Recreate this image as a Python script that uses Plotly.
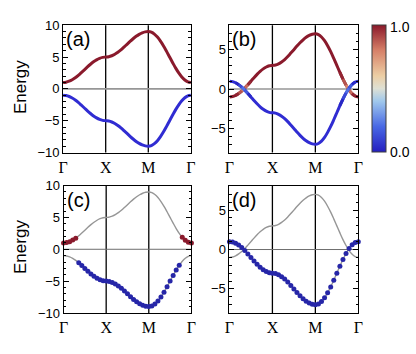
import plotly.graph_objects as go

# ---------------- data ----------------
k_labels = ["Γ", "X", "M", "Γ"]
k_ticks = [0, 14, 28, 42]
k_index = list(range(43))

band_a_upper = [1.00, 1.05, 1.20, 1.44, 1.75, 2.13, 2.56, 3.00, 3.45, 3.87, 4.25, 4.56, 4.80, 4.95,
                5.00, 5.05, 5.20, 5.44, 5.75, 6.13, 6.56, 7.00, 7.45, 7.87, 8.25, 8.56, 8.80, 8.95,
                9.00, 8.90, 8.60, 8.13, 7.49, 6.74, 5.89, 5.00, 4.11, 3.26, 2.51, 1.87, 1.40, 1.10, 1.00]
band_a_lower = [-1.00, -1.05, -1.20, -1.44, -1.75, -2.13, -2.56, -3.00, -3.45, -3.87, -4.25, -4.56, -4.80, -4.95,
                -5.00, -5.05, -5.20, -5.44, -5.75, -6.13, -6.56, -7.00, -7.45, -7.87, -8.25, -8.56, -8.80, -8.95,
                -9.00, -8.90, -8.60, -8.13, -7.49, -6.74, -5.89, -5.00, -4.11, -3.26, -2.51, -1.87, -1.40, -1.10, -1.00]
band_b_red = [-1.00, -0.95, -0.80, -0.56, -0.25, 0.13, 0.56, 1.00, 1.45, 1.87, 2.25, 2.56, 2.80, 2.95,
              3.00, 3.05, 3.20, 3.44, 3.75, 4.13, 4.56, 5.00, 5.45, 5.87, 6.25, 6.56, 6.80, 6.95,
              7.00, 6.90, 6.60, 6.13, 5.49, 4.74, 3.89, 3.00, 2.11, 1.26, 0.51, -0.13, -0.60, -0.90, -1.00]
band_b_blue = [1.00, 0.95, 0.80, 0.56, 0.25, -0.13, -0.56, -1.00, -1.45, -1.87, -2.25, -2.56, -2.80, -2.95,
               -3.00, -3.05, -3.20, -3.44, -3.75, -4.13, -4.56, -5.00, -5.45, -5.87, -6.25, -6.56, -6.80, -6.95,
               -7.00, -6.90, -6.60, -6.13, -5.49, -4.74, -3.89, -3.00, -2.11, -1.26, -0.51, 0.13, 0.60, 0.90, 1.00]
weight_b_red = [1, 1, 1, 0.95, 0.82, 0.75, 0.93, 1, 1, 1, 1, 1, 1, 1,
                1, 1, 1, 1, 1, 1, 1, 1, 1, 1, 1, 1, 1, 1,
                1, 1, 1, 1, 1, 1, 1, 1, 1, 0.95, 0.82, 0.75, 0.93, 1, 1]
weight_b_blue = [0, 0, 0, 0.05, 0.18, 0.25, 0.07, 0, 0, 0, 0, 0, 0, 0,
                 0, 0, 0, 0, 0, 0, 0, 0, 0, 0, 0, 0, 0, 0,
                 0, 0, 0, 0, 0, 0, 0, 0, 0, 0.05, 0.18, 0.25, 0.07, 0, 0]
dots_c_upper_idx = [0, 1, 2, 3, 4, 39, 40, 41, 42]
dots_c_lower_idx = list(range(5, 39))
dots_d_idx = list(range(43))
colorbar_labels = ["0.0", "1.0"]

colorscale = [
    [0.0, "rgb(36,30,192)"],
    [0.2, "rgb(72,104,228)"],
    [0.4, "rgb(160,200,236)"],
    [0.5, "rgb(222,224,212)"],
    [0.6, "rgb(236,206,164)"],
    [0.8, "rgb(214,128,104)"],
    [1.0, "rgb(138,24,42)"],
]
RED = "rgb(138,26,44)"
BLUE = "rgb(48,44,210)"
DOT_BLUE = "rgb(38,38,168)"
GRAY = "rgb(150,150,150)"


def color_at(w):
    for i in range(len(colorscale) - 1):
        a, ca = colorscale[i]
        b, cb = colorscale[i + 1]
        if a <= w <= b:
            f = (w - a) / (b - a) if b > a else 0
            pa = [float(v) for v in ca[4:-1].split(",")]
            pb = [float(v) for v in cb[4:-1].split(",")]
            c = [round(pa[j] + f * (pb[j] - pa[j])) for j in range(3)]
            return "rgb(%d,%d,%d)" % tuple(c)
    return colorscale[-1][1]


fig = go.Figure()

SERIF = "Liberation Serif"
SANS = "Liberation Sans"

# domains in paper fraction (canvas 416x354)
W, H = 416.0, 354.0
panels = {
    1: dict(x=(59.5, 190.5), y=(19, 152), yr=[-10, 10], yt=[-10, -5, 0, 5, 10]),
    2: dict(x=(230, 362), y=(19, 152), yr=[-8.05, 8.1], yt=[-5, 0, 5]),
    3: dict(x=(60, 191), y=(186.5, 319.5), yr=[-10, 10], yt=[-10, -5, 0, 5, 10]),
    4: dict(x=(230, 362), y=(187, 319.5), yr=[-8.05, 8.05], yt=[-5, 0, 5]),
}

layout = dict(
    width=416, height=354,
    margin=dict(l=0, r=0, t=0, b=0),
    paper_bgcolor="white", plot_bgcolor="white",
    showlegend=False,
    font=dict(family=SANS, color="black", size=13),
)
shapes = []
annotations = []
for n, p in panels.items():
    sx = "" if n == 1 else str(n)
    layout["xaxis" + sx] = dict(
        domain=[p["x"][0] / W, p["x"][1] / W], anchor="y" + sx, range=[0, 42],
        tickvals=k_ticks, ticktext=k_labels, ticks="", showline=True, mirror=True,
        linecolor="black", linewidth=1, showgrid=False, zeroline=False,
        tickfont=dict(family=SERIF, size=16, color="black"),
    )
    layout["yaxis" + sx] = dict(
        domain=[1 - p["y"][1] / H, 1 - p["y"][0] / H], anchor="x" + sx, range=p["yr"],
        tickvals=p["yt"], ticks="inside", ticklen=5, tickcolor="black", tickwidth=1,
        minor=dict(ticks="inside", ticklen=2.5, dtick=1, tickcolor="black", tickwidth=0.8),
        showline=True, mirror="ticks", linecolor="black", linewidth=1,
        showgrid=False, zeroline=False, tickfont=dict(family=SANS, size=13, color="black"),
    )
    xr, yr = "x" + sx, "y" + sx
    for xv in (14, 28):
        shapes.append(dict(type="line", xref=xr, yref=yr + " domain", x0=xv, x1=xv, y0=0, y1=1,
                           line=dict(color="black", width=1.3), layer="below"))
    zc, zw = (GRAY, 1.6) if n in (1, 2) else ("rgb(110,110,110)", 1.0)
    shapes.append(dict(type="line", xref=xr + " domain", yref=yr, x0=0, x1=1, y0=0, y1=0,
                       line=dict(color=zc, width=zw), layer="below"))
    annotations.append(dict(text="(" + "abcd"[n - 1] + ")", xref=xr + " domain", yref=yr + " domain",
                            x=0.0, y=1.0, xanchor="left", yanchor="top", xshift=1, yshift=-1,
                            showarrow=False, font=dict(family=SANS, size=20, color="black")))

for yc in (84, 251):
    annotations.append(dict(text="Energy", xref="paper", yref="paper", x=16 / W, y=1 - yc / H,
                            xanchor="center", yanchor="middle",
                            textangle=-90, showarrow=False, font=dict(family=SANS, size=17)))
# colour-bar end labels
for lab, yc in zip(colorbar_labels, (151, 21)):
    annotations.append(dict(text=lab, xref="paper", yref="paper", x=392 / W, y=1 - yc / H,
                            xanchor="left", yanchor="middle", showarrow=False,
                            font=dict(family=SANS, size=14, color="black")))
layout["shapes"] = shapes
layout["annotations"] = annotations
fig.update_layout(**layout)

# ---- panel (a)
fig.add_trace(go.Scatter(x=k_index, y=band_a_upper, mode="lines", line=dict(color=RED, width=3, shape="spline"),
                         xaxis="x", yaxis="y"))
fig.add_trace(go.Scatter(x=k_index, y=band_a_lower, mode="lines", line=dict(color=BLUE, width=3, shape="spline"),
                         xaxis="x", yaxis="y"))

# ---- panel (b): base colour + mixed colour near the crossings
for band, wts, base in ((band_b_red, weight_b_red, RED), (band_b_blue, weight_b_blue, BLUE)):
    fig.add_trace(go.Scatter(x=k_index, y=band, mode="lines", line=dict(color=base, width=3, shape="spline"),
                             xaxis="x2", yaxis="y2"))
    for i in range(len(band) - 1):
        wm = 0.5 * (wts[i] + wts[i + 1])
        if 0.02 < wm < 0.98:
            fig.add_trace(go.Scatter(x=[k_index[i], k_index[i + 1]], y=[band[i], band[i + 1]], mode="lines",
                                     line=dict(color=color_at(wm), width=3), xaxis="x2", yaxis="y2"))

# ---- panel (c)
for band in (band_a_upper, band_a_lower):
    fig.add_trace(go.Scatter(x=k_index, y=band, mode="lines", line=dict(color=GRAY, width=1.4, shape="spline"),
                             xaxis="x3", yaxis="y3"))
fig.add_trace(go.Scatter(x=[k_index[i] for i in dots_c_upper_idx], y=[band_a_upper[i] for i in dots_c_upper_idx],
                         mode="markers", marker=dict(color=RED, size=5), xaxis="x3", yaxis="y3", cliponaxis=False))
fig.add_trace(go.Scatter(x=[k_index[i] for i in dots_c_lower_idx], y=[band_a_lower[i] for i in dots_c_lower_idx],
                         mode="markers", marker=dict(color=DOT_BLUE, size=5), xaxis="x3", yaxis="y3"))

# ---- panel (d)
for band in (band_b_red, band_b_blue):
    fig.add_trace(go.Scatter(x=k_index, y=band, mode="lines", line=dict(color=GRAY, width=1.4, shape="spline"),
                             xaxis="x4", yaxis="y4"))
fig.add_trace(go.Scatter(x=[k_index[i] for i in dots_d_idx], y=[band_b_blue[i] for i in dots_d_idx],
                         mode="markers", marker=dict(color=DOT_BLUE, size=5), xaxis="x4", yaxis="y4", cliponaxis=False))

# ---- colour bar
fig.add_trace(go.Scatter(
    x=[-50, -50], y=[0, 0], mode="markers", xaxis="x", yaxis="y",
    marker=dict(color=[0, 1], colorscale=colorscale, cmin=0, cmax=1, size=1, opacity=0, showscale=True,
                colorbar=dict(x=376.5 / W, xanchor="left", y=1 - 85.5 / H, yanchor="middle",
                              len=132.5 / H, lenmode="fraction", thickness=14, thicknessmode="pixels",
                              showticklabels=False, ticks="", outlinewidth=1,
                              outlinecolor="rgb(60,60,60)", xpad=0, ypad=0)),
    hoverinfo="skip"))

fig.write_html("out.html", config={"displayModeBar": False},
               post_script="document.body.style.margin='0';document.body.style.overflow='hidden';")
